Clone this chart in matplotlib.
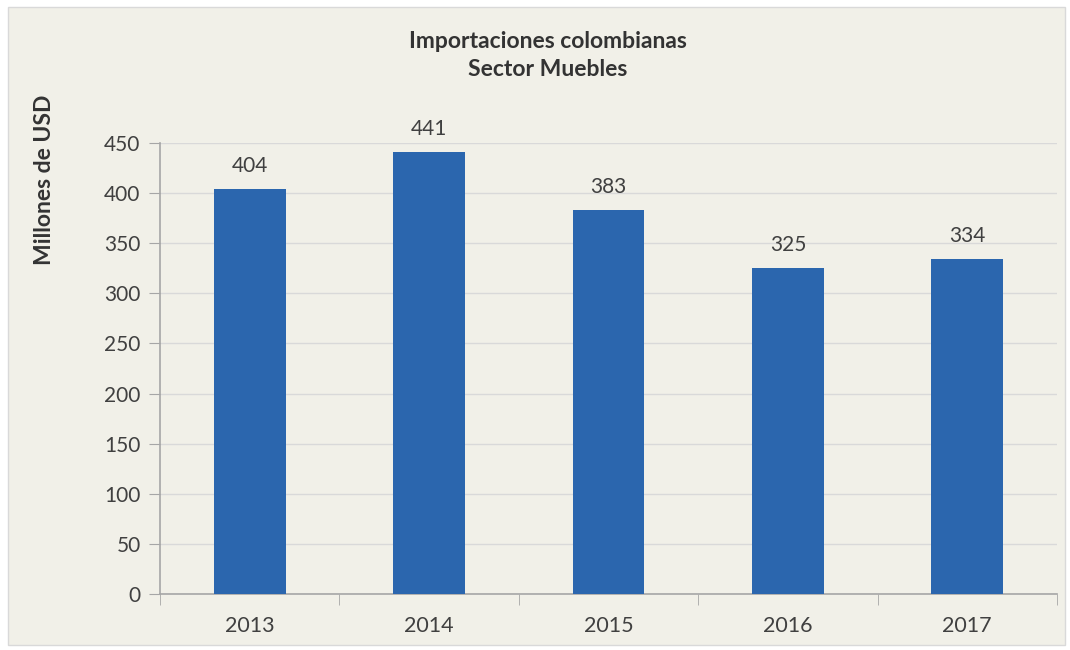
import matplotlib
matplotlib.use("Agg")
import matplotlib.pyplot as plt
from matplotlib.patches import Rectangle

years = ["2013", "2014", "2015", "2016", "2017"]
imports_musd = [404, 441, 383, 325, 334]
y_ticks = [0, 50, 100, 150, 200, 250, 300, 350, 400, 450]

plt.rcParams["font.family"] = ["Lato", "DejaVu Sans"]
text_color = "#404040"
bg = "#F1F0E8"

fig = plt.figure(figsize=(10.7, 6.5), dpi=100)
fig.patch.set_facecolor("white")
# panel background with thin border, behind the axes
fig.patches.append(Rectangle((8 / 1070, 1 - 645 / 650), 1057 / 1070, 638 / 650,
                             transform=fig.transFigure, facecolor=bg,
                             edgecolor="#D9D9D9", linewidth=1, zorder=-5))

ax = fig.add_axes([160 / 1070, 1 - 594 / 650, 897 / 1070, 451 / 650])
ax.set_facecolor(bg)
x = range(len(years))
ax.bar(x, imports_musd, width=0.4, color="#2B66AE", zorder=3)
for xi, v in zip(x, imports_musd):
    ax.text(xi, v + 13, str(v), ha="center", va="bottom", fontsize=15, color=text_color)

ax.set_xlim(-0.5, len(years) - 0.5)
ax.set_ylim(0, 450)
ax.set_yticks(y_ticks)
ax.set_xticks(list(x))
ax.set_xticklabels(years)
ax.set_xticks([i - 0.5 for i in range(len(years) + 1)], minor=True)
ax.tick_params(axis="x", which="major", length=0, pad=16, labelsize=15.5, labelcolor=text_color)
ax.tick_params(axis="x", which="minor", length=8, color="#A6A6A6", direction="out")
ax.tick_params(axis="y", length=8, color="#A6A6A6", labelsize=15, labelcolor=text_color, pad=6)
ax.grid(axis="y", color="#D9D9D9", linewidth=1, zorder=0)
ax.set_axisbelow(True)
for side in ("top", "right"):
    ax.spines[side].set_visible(False)
for side in ("left", "bottom"):
    ax.spines[side].set_color("#A6A6A6")
    ax.spines[side].set_linewidth(1.2)

fig.text(548 / 1070, 1 - 42 / 650, "Importaciones colombianas", ha="center", va="center",
         fontsize=16.5, fontweight="bold", color="#333333")
fig.text(548 / 1070, 1 - 70 / 650, "Sector Muebles", ha="center", va="center",
         fontsize=16.5, fontweight="bold", color="#333333")
fig.text(45 / 1070, 1 - 180 / 650, "Millones de USD", rotation=90, ha="center", va="center",
         fontsize=16.5, fontweight="bold", color="#333333")

fig.savefig("out.png", dpi=100, facecolor=fig.get_facecolor())
